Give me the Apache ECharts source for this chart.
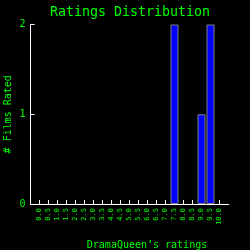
<!DOCTYPE html>
<html><head><meta charset="utf-8">
<script src="https://cdn.jsdelivr.net/npm/echarts@6/dist/echarts.min.js"></script>
<style>html,body{margin:0;padding:0;background:#000;}#c{width:250px;height:250px;}</style>
</head><body><div id="c"></div>
<script>
const ratings = [0.0,0.5,1.0,1.5,2.0,2.5,3.0,3.5,4.0,4.5,5.0,5.5,6.0,6.5,7.0,7.5,8.0,8.5,9.0,9.5,10.0];
const counts  = [0,0,0,0,0,0,0,0,0,0,0,0,0,0,0,2,0,0,1,2,0];
const yTicks = [0,1,2];
const titleText = 'Ratings Distribution';
const xName = 'DramaQueen’s ratings';
const yName = '# Films Rated';

const green = '#00ff00';
const font = 'DejaVu Sans Mono';
const barData = ratings.map((r,i)=>[r,counts[i]]).filter(d=>d[1]>0);

const chart = echarts.init(document.getElementById('c'), null, {renderer:'canvas'});
chart.setOption({
  backgroundColor:'#000',
  animation:false,
  title:{text:titleText,left:45,top:1,textStyle:{color:green,fontFamily:font,fontSize:13.3,fontWeight:'normal'}},
  grid:{left:30.5,right:21.5,top:24.5,bottom:46,containLabel:false,outerBoundsMode:'none'},
  xAxis:{
    type:'value',min:-0.5,max:10.5,interval:0.5,
    name:xName,nameLocation:'middle',nameGap:36,nameMoveOverlap:false,
    nameTextStyle:{color:green,fontFamily:font,fontSize:10,padding:[0,0,0,35]},
    axisLine:{show:true,onZero:false,lineStyle:{color:'#fff',width:1}},
    axisTick:{show:true,inside:true,length:4,lineStyle:{color:'#fff'},customValues:ratings},
    axisLabel:{color:green,fontFamily:font,fontSize:7,rotate:90,margin:4,customValues:ratings,
      formatter:v=>Number(v).toFixed(1)},
    splitLine:{show:false}
  },
  yAxis:{
    type:'value',min:0,max:2,interval:1,
    name:yName,nameLocation:'middle',nameGap:17,nameMoveOverlap:false,
    nameTextStyle:{color:green,fontFamily:font,fontSize:10},
    axisLine:{show:true,onZero:false,lineStyle:{color:'#fff',width:1}},
    axisTick:{show:true,inside:true,length:4,lineStyle:{color:'#fff'},customValues:yTicks},
    axisLabel:{color:green,fontFamily:font,fontSize:10,margin:5,customValues:yTicks},
    splitLine:{show:false}
  },
  series:[{
    type:'bar',data:barData,barWidth:8,
    itemStyle:{color:'#0000ff',borderColor:'#808080',borderWidth:1}
  }]
});
</script></body></html>
